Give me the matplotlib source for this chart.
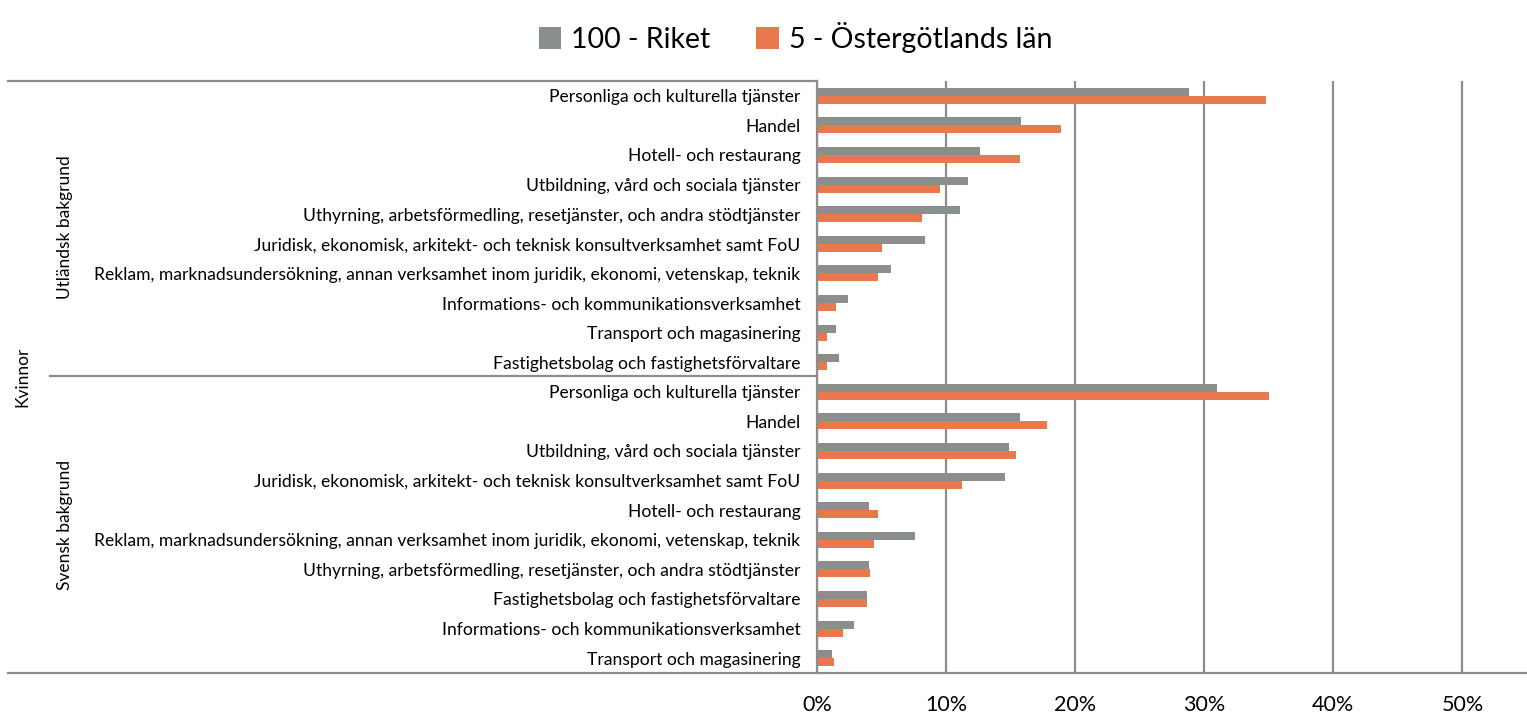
import numpy as np
import matplotlib.pyplot as plt
from matplotlib.lines import Line2D

plt.rcParams['font.family'] = ['Lato', 'DejaVu Sans']

series_names = ['100 - Riket', '5 - Östergötlands län']
group_names = ['Utländsk bakgrund', 'Svensk bakgrund']
top_label = 'Kvinnor'

cats_utl = ['Personliga och kulturella tjänster',
            'Handel',
            'Hotell- och restaurang',
            'Utbildning, vård och sociala tjänster',
            'Uthyrning, arbetsförmedling, resetjänster, och andra stödtjänster',
            'Juridisk, ekonomisk, arkitekt- och teknisk konsultverksamhet samt FoU',
            'Reklam, marknadsundersökning, annan verksamhet inom juridik, ekonomi, vetenskap, teknik',
            'Informations- och kommunikationsverksamhet',
            'Transport och magasinering',
            'Fastighetsbolag och fastighetsförvaltare']
riket_utl = [28.8, 15.8, 12.6, 11.7, 11.1, 8.4, 5.7, 2.4, 1.5, 1.7]
ostg_utl = [34.8, 18.9, 15.7, 9.5, 8.1, 5.0, 4.7, 1.5, 0.75, 0.75]

cats_sve = ['Personliga och kulturella tjänster',
            'Handel',
            'Utbildning, vård och sociala tjänster',
            'Juridisk, ekonomisk, arkitekt- och teknisk konsultverksamhet samt FoU',
            'Hotell- och restaurang',
            'Reklam, marknadsundersökning, annan verksamhet inom juridik, ekonomi, vetenskap, teknik',
            'Uthyrning, arbetsförmedling, resetjänster, och andra stödtjänster',
            'Fastighetsbolag och fastighetsförvaltare',
            'Informations- och kommunikationsverksamhet',
            'Transport och magasinering']
riket_sve = [31.0, 15.7, 14.9, 14.6, 4.0, 7.6, 4.0, 3.85, 2.9, 1.2]
ostg_sve = [35.0, 17.8, 15.4, 11.2, 4.7, 4.4, 4.1, 3.9, 2.0, 1.3]

gray = '#8B8F8C'
orange = '#E8794E'
line_col = '#8C8C8C'

cats = cats_utl + cats_sve
riket = np.array(riket_utl + riket_sve) / 100
ostg = np.array(ostg_utl + ostg_sve) / 100
y = np.arange(len(cats))

W, H = 1527, 719
fig = plt.figure(figsize=(W / 100, H / 100), dpi=100)
ax = fig.add_axes([817 / W, 1 - 673 / H, 1 - 817 / W, (673 - 81) / H])

h = 0.27
ax.barh(y - h / 2, riket, height=h, color=gray, label=series_names[0])
ax.barh(y + h / 2, ostg, height=h, color=orange, label=series_names[1])

ax.set_ylim(len(cats) - 0.5, -0.5)
ax.set_xlim(0, 0.55)
ax.set_xticks(np.arange(0, 0.51, 0.1))
ax.set_xticklabels([f'{int(round(v * 100))}%' for v in np.arange(0, 0.51, 0.1)], fontsize=15.5)
ax.set_yticks(y)
ax.set_yticklabels(cats, fontsize=12.6)
ax.tick_params(axis='y', length=0, pad=12)
ax.tick_params(axis='x', length=0, pad=16)
ax.xaxis.grid(True, color=line_col, linewidth=1.6)
ax.set_axisbelow(True)
for s in ['top', 'right', 'bottom']:
    ax.spines[s].set_visible(False)
ax.spines['left'].set_color(line_col)
ax.spines['left'].set_linewidth(1.6)

# lines of the two-level category axis
def hline(y_px, x0_px, x1_px):
    fig.add_artist(Line2D([x0_px / W, x1_px / W], [1 - y_px / H, 1 - y_px / H],
                          color=line_col, linewidth=1.6, transform=fig.transFigure))

hline(81, 8, 817)
hline(376, 50, 817)
hline(673, 8, W)

fig.text(65 / W, 1 - 227 / H, group_names[0], rotation=90, ha='center', va='center', fontsize=12.5)
fig.text(65 / W, 1 - 525 / H, group_names[1], rotation=90, ha='center', va='center', fontsize=12.5)
fig.text(22 / W, 1 - 377 / H, top_label, rotation=90, ha='center', va='center', fontsize=12.5)

fig.legend(loc='upper center', bbox_to_anchor=(0.521, 1.005), ncol=2, frameon=False,
           fontsize=20.5, handlelength=0.8, handleheight=0.8, handletextpad=0.35,
           columnspacing=1.6)

fig.savefig('out.png', dpi=100)
